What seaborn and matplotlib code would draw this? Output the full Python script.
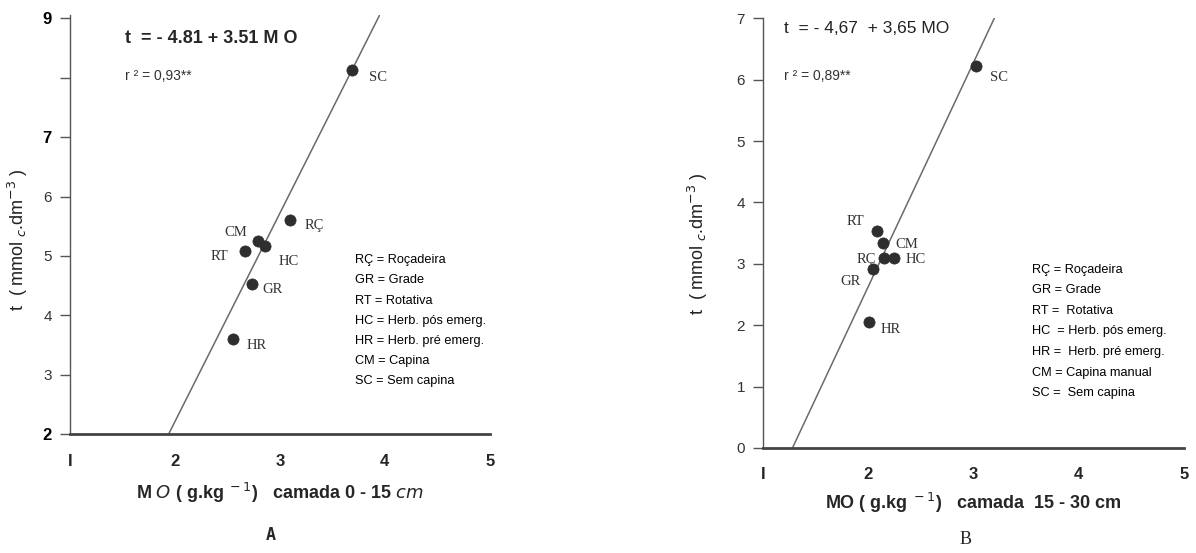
import matplotlib
matplotlib.use("Agg")
import matplotlib.pyplot as plt
import seaborn as sns
import numpy as np
import pandas as pd

# Treatments (codes) and values for each soil layer
codes = ["SC", "RÇ", "CM", "HC", "RT", "GR", "HR"]
mo_0_15 = [3.69, 3.10, 2.79, 2.86, 2.67, 2.73, 2.55]
t_0_15 = [8.14, 5.61, 5.25, 5.17, 5.09, 4.53, 3.61]
mo_15_30 = [3.02, 2.15, 2.14, 2.24, 2.08, 2.04, 2.01]
t_15_30 = [6.22, 3.10, 3.34, 3.10, 3.53, 2.92, 2.05]

# Fitted regressions: t = a + b * MO
fit_a = {"A": -4.81, "B": -4.67}
fit_b = {"A": 3.51, "B": 3.65}
eq_text = {"A": "t  = - 4.81 + 3.51 M O", "B": "t  = - 4,67  + 3,65 MO"}
r2_text = {"A": "r ² = 0,93**", "B": "r ² = 0,89**"}

# Axis ticks
x_ticks = [1, 2, 3, 4, 5]
x_ticklabels = ["I", "2", "3", "4", "5"]
y_ticks_A = [2, 3, 4, 5, 6, 7, 8, 9]
y_ticklabels_A = ["2", "3", "4", "5", "6", "7", "", "9"]
y_ticks_B = [0, 1, 2, 3, 4, 5, 6, 7]
y_ticklabels_B = ["0", "1", "2", "3", "4", "5", "6", "7"]

legend_A = ["RÇ = Roçadeira", "GR = Grade", "RT = Rotativa", "HC = Herb. pós emerg.",
            "HR = Herb. pré emerg.", "CM = Capina", "SC = Sem capina"]
legend_B = ["RÇ = Roçadeira", "GR = Grade", "RT =  Rotativa", "HC  = Herb. pós emerg.",
            "HR =  Herb. pré emerg.", "CM = Capina manual", "SC =  Sem capina"]

sns.set_theme(style="white")
plt.rcParams["font.family"] = ["Liberation Sans", "DejaVu Sans"]

fig = plt.figure(figsize=(11.96, 5.53), dpi=100)
axA = fig.add_axes([0.0585, 0.215, 0.351, 0.757])
axB = fig.add_axes([0.638, 0.19, 0.352, 0.777])

point_color = "#2e2e2e"
line_color = "#6a6a6a"


def draw_panel(ax, mo, t, key, ylim):
    df = pd.DataFrame({"MO": mo, "t": t, "code": codes})
    a, b = fit_a[key], fit_b[key]
    x0 = (ylim[0] - a) / b
    x1 = (ylim[1] - a) / b
    xs = np.array([x0, x1])
    line_df = pd.DataFrame({"MO": xs, "t": a + b * xs})
    sns.lineplot(data=line_df, x="MO", y="t", ax=ax, color=line_color, lw=1.1)
    sns.scatterplot(data=df, x="MO", y="t", ax=ax, color=point_color, s=65,
                    edgecolor=point_color, linewidth=0.5, zorder=3)
    ax.set_xlim(1, 5)
    ax.set_ylim(*ylim)
    for s in ["top", "right"]:
        ax.spines[s].set_visible(False)
    ax.spines["left"].set_color("#555555")
    ax.spines["left"].set_linewidth(1.0)
    ax.spines["bottom"].set_color("#444444")
    ax.spines["bottom"].set_linewidth(2.0)
    ax.set_xticks(x_ticks)
    ax.set_xticklabels(x_ticklabels, fontsize=12, fontweight="bold")
    ax.tick_params(axis="x", direction="out", length=4, width=0.8, color="#888888", pad=10)
    ax.tick_params(axis="y", direction="out", length=7, width=1.0, color="#555555",
                   labelsize=11, labelcolor="#333333", pad=6, left=True)
    ax.set_ylabel(r"t  ( mmol$_{\ c}$.dm$^{-3}$ )", fontsize=13, color="#222222")


# Panel A: layer 0 - 15 cm
draw_panel(axA, mo_0_15, t_0_15, "A", (2, 9.05))
axA.set_yticks(y_ticks_A)
axA.set_yticklabels(y_ticklabels_A)
for lbl in axA.get_yticklabels():
    if lbl.get_text() in ("9", "7", "2"):
        lbl.set_fontweight("bold")
        lbl.set_color("black")
        lbl.set_fontsize(12)
axA.yaxis.set_label_coords(-0.095, 0.465)
axA.set_xlabel(r"M $\it{O}$ ( g.kg$^{\ -1}$)   camada 0 - 15 $\it{cm}$", fontsize=13,
               fontweight="bold", labelpad=9)
axA.text(0.13, 0.945, eq_text["A"], transform=axA.transAxes, fontsize=13,
         fontweight="bold", va="center")
axA.text(0.13, 0.855, r2_text["A"], transform=axA.transAxes, fontsize=10,
         color="#333333", va="center")

# Panel B: layer 15 - 30 cm
draw_panel(axB, mo_15_30, t_15_30, "B", (0, 7))
axB.set_yticks(y_ticks_B)
axB.set_yticklabels(y_ticklabels_B)
axB.yaxis.set_label_coords(-0.125, 0.475)
axB.set_xlabel(r"MO ( g.kg$^{\ -1}$)   camada  15 - 30 cm", fontsize=13,
               fontweight="bold", labelpad=6)
axB.text(0.05, 0.975, eq_text["B"], transform=axB.transAxes, fontsize=12.5,
         color="#222222", va="center")
axB.text(0.05, 0.865, r2_text["B"], transform=axB.transAxes, fontsize=10,
         color="#333333", va="center")

# Point labels (offsets in points)
label_offsets_A = {"SC": (12, -6), "RÇ": (10, -4), "CM": (-24, 6), "HC": (10, -11),
                   "RT": (-25, -4), "GR": (8, -4), "HR": (10, -5)}
label_offsets_B = {"SC": (10, -8), "RÇ": (-20, -1), "CM": (9, -1), "HC": (9, -1),
                   "RT": (-22, 7), "GR": (-23, -9), "HR": (8, -5)}
for ax, mo, t, offs in [(axA, mo_0_15, t_0_15, label_offsets_A),
                        (axB, mo_15_30, t_15_30, label_offsets_B)]:
    for c, x, y in zip(codes, mo, t):
        ax.annotate(c, (x, y), xytext=offs[c], textcoords="offset points",
                    fontsize=10.5, family="Liberation Serif", color="#333333",
                    va="center", ha="left")

# Treatment code keys
for ax, lines, x0, y0 in [(axA, legend_A, 0.68, 0.415), (axB, legend_B, 0.64, 0.415)]:
    for i, line in enumerate(lines):
        ax.text(x0, y0 - i * 0.048, line, transform=ax.transAxes, fontsize=9.2,
                color="black", va="center")

# Panel letters
fig.text(0.226, 0.032, "A", fontsize=12, fontweight="bold", family="DejaVu Sans Mono",
         ha="center", va="center")
fig.text(0.807, 0.024, "B", fontsize=13, family="Liberation Serif", ha="center",
         va="center")

fig.savefig("out.png", dpi=100, facecolor="white")
